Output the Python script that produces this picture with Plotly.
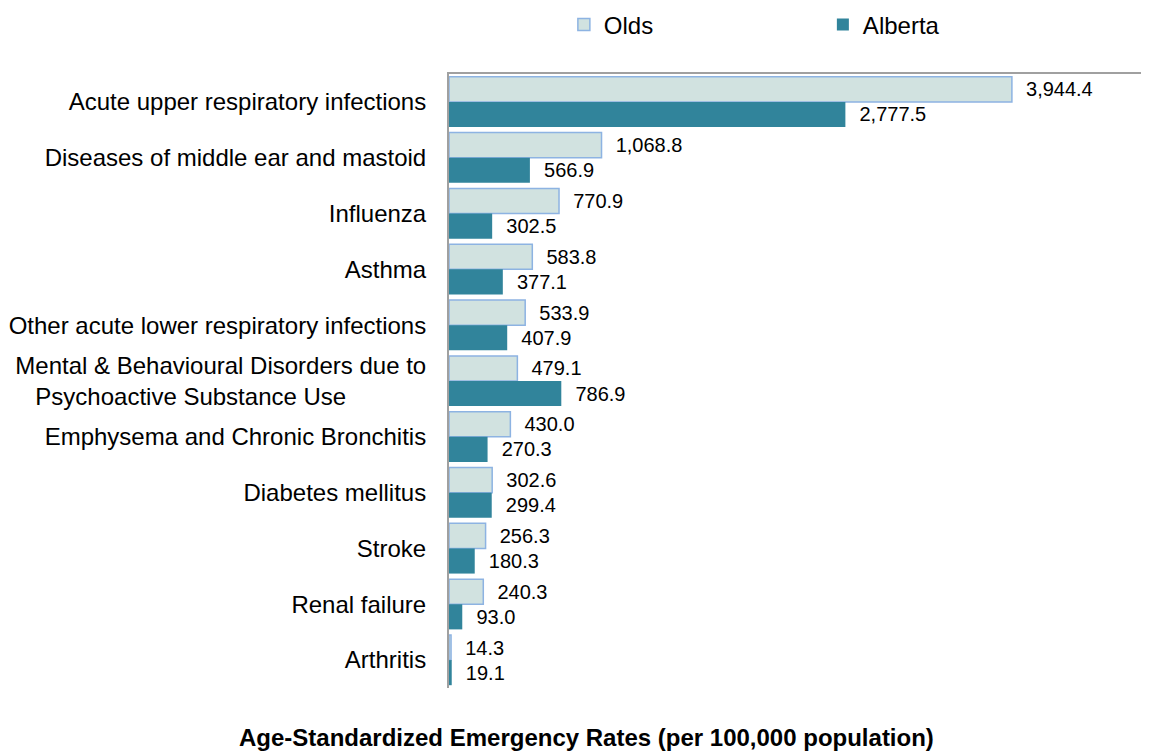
import plotly.graph_objects as go

# conditions, top to bottom
NB = "\u00a0"
categories = [
    "Acute upper respiratory infections",
    "Diseases of middle ear and mastoid",
    "Influenza",
    "Asthma",
    "Other acute lower respiratory infections",
    "Mental & Behavioural Disorders due to<br>Psychoactive Substance Use" + NB * 12,
    "Emphysema and Chronic Bronchitis",
    "Diabetes mellitus",
    "Stroke",
    "Renal failure",
    "Arthritis",
]
olds = [3944.4, 1068.8, 770.9, 583.8, 533.9, 479.1, 430.0, 302.6, 256.3, 240.3, 14.3]
alberta = [2777.5, 566.9, 302.5, 377.1, 407.9, 786.9, 270.3, 299.4, 180.3, 93.0, 19.1]

FONT = "Arial, Liberation Sans, sans-serif"

fig = go.Figure()
fig.add_trace(go.Bar(
    name="Olds", y=categories, x=olds, orientation="h",
    marker=dict(color="#d1e2e0", line=dict(color="#8db3e2", width=1.5)),
    texttemplate="  %{x:,.1f}", textposition="outside",
    textfont=dict(size=20, color="#000000"), cliponaxis=False,
))
fig.add_trace(go.Bar(
    name="Alberta", y=categories, x=alberta, orientation="h",
    marker=dict(color="#31849b", line=dict(width=0)),
    texttemplate="  %{x:,.1f}", textposition="outside",
    textfont=dict(size=20, color="#000000"), cliponaxis=False,
))

# page has an 8px body margin, so positions are shifted by 8px
fig.update_layout(
    width=1133, height=743,
    margin=dict(l=441, r=0, t=66, b=63, autoexpand=False),
    barmode="group", bargap=0.1, bargroupgap=0,
    plot_bgcolor="white", paper_bgcolor="white",
    font=dict(family=FONT, size=24, color="#000000"),
    uniformtext=dict(mode=False),
    legend=dict(
        orientation="h", x=0.166, xanchor="left", y=1.08, yanchor="middle",
        font=dict(size=24), entrywidth=214, entrywidthmode="pixels",
        itemwidth=30, traceorder="normal",
    ),
    xaxis=dict(
        range=[0, 4849], side="top", showline=True, linecolor="#a0a0a0",
        linewidth=2, showgrid=False, zeroline=False, showticklabels=False,
        ticks="",
    ),
    yaxis=dict(
        autorange="reversed", showline=True, linecolor="#a0a0a0", linewidth=2,
        showgrid=False, ticks="", ticklabelstandoff=16,
        tickfont=dict(size=24),
    ),
    annotations=[dict(
        text="<b>Age-Standardized Emergency Rates (per 100,000 population)</b>",
        xref="paper", yref="paper", x=0.199, y=-0.081, xanchor="center",
        yanchor="middle", showarrow=False, font=dict(size=24),
    )],
)

fig.write_html("out.html")
